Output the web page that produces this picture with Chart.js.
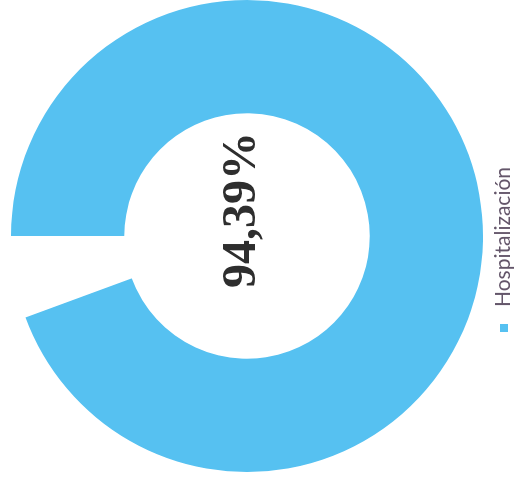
<!DOCTYPE html>
<html>
<head>
<meta charset="utf-8">
<script src="https://cdn.jsdelivr.net/npm/chart.js@4"></script>
<style>
  html, body { margin: 0; padding: 0; background: #fff; }
  #stage { position: relative; width: 519px; height: 482px; overflow: hidden; background: #fff; }
  #wrap { position: absolute; left: 0; top: 0; width: 482px; height: 519px;
          transform-origin: 0 0; transform: translateY(482px) rotate(-90deg); }
</style>
</head>
<body>
<div id="stage"><div id="wrap"><canvas id="c" width="482" height="519"></canvas></div></div>
<script>
const categories = ['Hospitalización', ''];
const values = [94.39, 5.61];
const colors = ['#56C1F1', 'rgba(0,0,0,0)'];
const centerLabel = values[0].toFixed(2).replace('.', ',') + '%';

// small square swatch used as the legend marker
const swatch = document.createElement('canvas');
swatch.width = 8; swatch.height = 8;
(function () { const g = swatch.getContext('2d'); g.fillStyle = colors[0]; g.fillRect(0, 0, 8, 8); })();

const centerText = {
  id: 'centerText',
  afterDraw(chart) {
    const a = chart.chartArea;
    const ctx = chart.ctx;
    const cx = (a.left + a.right) / 2 + 26;
    const cy = (a.top + a.bottom) / 2 - 4;
    ctx.save();
    ctx.font = 'bold 48px "Liberation Serif", "DejaVu Serif", serif';
    ctx.fillStyle = '#2e2e2e';
    ctx.textAlign = 'center';
    ctx.textBaseline = 'middle';
    ctx.fillText(centerLabel, cx, cy);
    ctx.restore();
  }
};

new Chart(document.getElementById('c'), {
  type: 'doughnut',
  data: {
    labels: categories,
    datasets: [{
      data: values,
      backgroundColor: colors,
      borderWidth: 0,
      hoverOffset: 0
    }]
  },
  options: {
    responsive: false,
    animation: false,
    devicePixelRatio: 1,
    cutout: '52%',
    rotation: 0,
    layout: { padding: { left: 10, right: 0, top: 3, bottom: -5 } },
    plugins: {
      tooltip: { enabled: false },
      legend: {
        position: 'bottom',
        labels: {
          usePointStyle: true,
          pointStyleWidth: 21,
          boxHeight: 8,
          padding: 2,
          color: '#64566A',
          font: { family: 'Lato, "Open Sans", sans-serif', size: 21 },
          generateLabels(chart) {
            return [
              { text: categories[0], fillStyle: colors[0], strokeStyle: colors[0], lineWidth: 0,
                pointStyle: swatch, hidden: false, index: 0, fontColor: '#64566A' },
              { text: categories[1], fillStyle: colors[1], strokeStyle: colors[1], lineWidth: 0,
                pointStyle: 'circle', hidden: false, index: 1, fontColor: 'rgba(0,0,0,0)' }
            ];
          }
        }
      }
    }
  },
  plugins: [centerText]
});
</script>
</body>
</html>
